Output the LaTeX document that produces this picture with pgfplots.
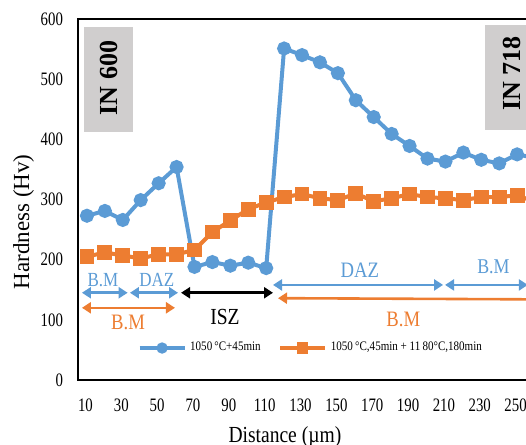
\documentclass[border=0pt]{standalone}
\usepackage{fontspec}
\setmainfont{Liberation Serif}[FakeStretch=0.85]
\newfontfamily\uprightfont{Liberation Serif}
\newfontfamily\tickfont{Liberation Serif}[FakeStretch=0.78]
\usepackage{pgfplots}
\pgfplotsset{compat=1.18}
\usetikzlibrary{arrows.meta}

\definecolor{cblue}{HTML}{5B9BD5}
\definecolor{corange}{HTML}{ED7D31}
\definecolor{boxgray}{HTML}{D0CECE}

\begin{document}
\begin{tikzpicture}
  \begin{axis}[
    at={(0pt,0pt)}, anchor=south west,
    scale only axis,
    width=233pt, height=180.5pt,
    xmin=5, xmax=265,
    ymin=0, ymax=600,
    xtick={10,30,...,250},
    ytick={0,100,...,600},
    major tick length=0pt,
    axis line style={line width=1pt},
    tick label style={font=\tickfont\fontsize{9.5}{10}\selectfont},
    /pgf/number format/assume math mode=true,
    yticklabel style={xshift=-4pt},
    xticklabel style={yshift=-6pt, xshift=-0.75pt},
    xlabel={Distance (\textmu m)},
    ylabel={Hardness (Hv)},
    xlabel style={font=\fontsize{11.5}{12}\selectfont, at={(axis description cs:0.444,-0.172)}, anchor=base},
    ylabel style={font=\uprightfont\fontsize{11.5}{12}\selectfont, at={(axis description cs:-0.105,0.438)}, anchor=base},
    legend columns=2,
    legend style={at={(axis description cs:0.115,0.0886)}, anchor=west, draw=none, fill=none,
      font=\fontsize{6.5}{7}\selectfont,
      /tikz/every even column/.append style={column sep=7pt}},
    legend image code/.code={
      \draw[mark repeat=2, mark phase=2, #1, mark size=2pt, line width=1.6pt]
        plot coordinates {(0pt,0pt) (11.25pt,0pt) (22.5pt,0pt)};},
  ]
    % grey boxes behind the data
    \fill[boxgray] (axis cs:8.3,412) rectangle (axis cs:35.7,587);
    \fill[boxgray] (axis cs:232.1,415) rectangle (axis cs:262,590);

    \addplot[color=cblue, line width=2pt, mark=*, mark size=2.5pt,
      mark options={solid, fill=cblue, draw=cblue}] coordinates {
      (10,273)(20,281)(30,266)(40,299)(50,327)(60,354)(70,188)(80,196)(90,190)
      (100,195)(110,186)(120,551)(130,540)(140,528)(150,510)(160,465)(170,437)
      (180,409)(190,389)(200,368)(210,363)(220,378)(230,366)(240,360)(250,375)(260,369)
    };
    \addlegendentry{1050\,°C+45min}
    \addplot[color=corange, line width=2pt, mark=square*, mark size=2.7pt,
      mark options={solid, fill=corange, draw=corange}] coordinates {
      (10,205)(20,212)(30,207)(40,202)(50,209)(60,209)(70,216)(80,246)(90,265)
      (100,284)(110,295)(120,304)(130,309)(140,302)(150,299)(160,310)(170,297)
      (180,302)(190,309)(200,304)(210,302)(220,299)(230,304)(240,304)(250,307)(260,296)
    };
    \addlegendentry{1050\,°C,45min + 11\,80°C,180min}

    % alloy labels
    \node[rotate=90, font=\uprightfont\bfseries\fontsize{13}{14}\selectfont] at (axis cs:22.3,502) {IN 600};
    \node[rotate=90, font=\uprightfont\bfseries\fontsize{13}{14}\selectfont] at (axis cs:247.2,509) {IN 718};

    % zone arrows
    \begin{scope}[line width=1.3pt, {Triangle[width=5.5pt,length=4.5pt]}-{Triangle[width=5.5pt,length=4.5pt]}]
      \draw[cblue] (axis cs:7.2,145) -- (axis cs:32.7,145);
      \draw[cblue] (axis cs:34,145) -- (axis cs:60.8,145);
      \draw[black] (axis cs:62.5,145) -- (axis cs:113.8,145);
      \draw[corange] (axis cs:7.2,120) -- (axis cs:59.1,120);
      \draw[cblue] (axis cs:113.8,158) -- (axis cs:208.7,158);
      \draw[cblue] (axis cs:209.8,158) -- (axis cs:256,158);
      \draw[corange] (axis cs:116.6,136) -- (axis cs:262,134);
    \end{scope}

    % zone labels
    \node[text=cblue, font=\fontsize{10}{11}\selectfont] at (axis cs:18.9,166) {B.M};
    \node[text=cblue, font=\fontsize{10}{11}\selectfont] at (axis cs:49,166) {DAZ};
    \node[text=corange, font=\fontsize{11}{12}\selectfont] at (axis cs:32.9,95) {B.M};
    \node[text=black, font=\fontsize{11.5}{12}\selectfont] at (axis cs:87,105) {ISZ};
    \node[text=cblue, font=\fontsize{11}{12}\selectfont] at (axis cs:162.3,183) {DAZ};
    \node[text=cblue, font=\fontsize{10.5}{11}\selectfont] at (axis cs:236.8,188) {B.M};
    \node[text=corange, font=\fontsize{11}{12}\selectfont] at (axis cs:186.5,100) {B.M};
  \end{axis}
  \pgfresetboundingbox
  \path[use as bounding box] (-39pt,-32.5pt) rectangle (224pt,190pt);
\end{tikzpicture}
\end{document}
